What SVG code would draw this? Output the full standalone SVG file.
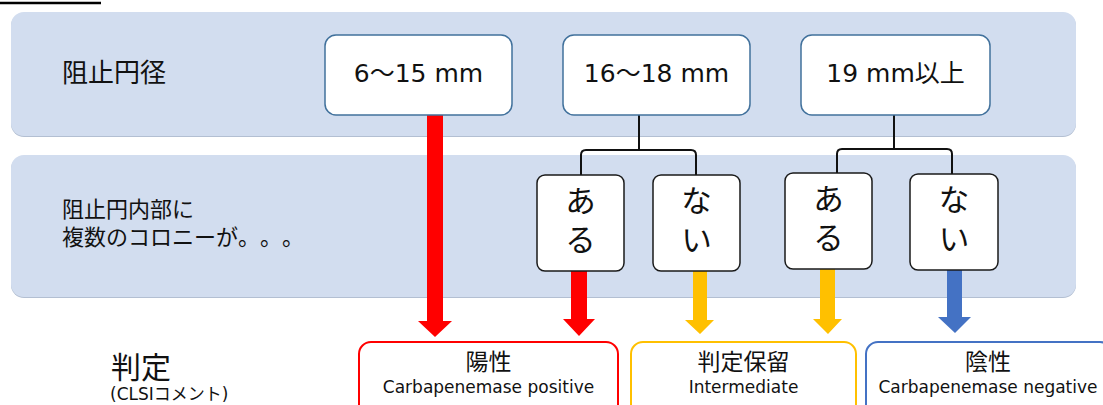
<svg xmlns="http://www.w3.org/2000/svg" width="1103" height="405" viewBox="0 0 1103 405">
<defs>
<style>
.band{fill:#d2ddef;}
.bandsh{fill:#b3bfd2;}
.top{fill:#ffffff;stroke:#41719c;stroke-width:1.5;}
.sub{fill:#ffffff;stroke:#1a1a1a;stroke-width:1.5;}
.t{font-family:"DejaVu Sans","Noto Sans CJK JP",sans-serif;fill:#111;}
.v{font-family:"Noto Sans CJK JP",sans-serif;fill:#111;writing-mode:vertical-rl;font-size:31px;letter-spacing:8px;}
.conn{fill:none;stroke:#111;stroke-width:2;stroke-linejoin:round;}
.red{fill:#ff0000;}
.yel{fill:#ffc000;}
.blu{fill:#4472c4;}
</style>
</defs>
<rect width="1103" height="405" fill="#ffffff"/>
<line x1="0" y1="3" x2="101" y2="3" stroke="#000" stroke-width="2.5"/>
<g id="band1">
<rect class="bandsh" x="11" y="13" width="1065" height="124" rx="13"/>
<rect class="band" x="11" y="12" width="1065" height="124" rx="13"/>
<text class="t" x="62" y="82" font-size="26">阻止円径</text>
</g>
<g id="band2">
<rect class="bandsh" x="11" y="156" width="1065" height="142" rx="13"/>
<rect class="band" x="11" y="155" width="1065" height="142" rx="13"/>
<text class="t" x="62" y="217" font-size="22">阻止円内部に</text>
<text class="t" x="62" y="245" font-size="22">複数のコロニーが<tspan x="238 260 282">。。。</tspan></text>
</g>
<g id="connectors">
<path class="conn" d="M639,115 V150 M581,175 V155 Q581,150 586,150 H691 Q696,150 696,155 V175"/>
<path class="conn" d="M894,115 V149 M837,173 V154 Q837,149 842,149 H947 Q952,149 952,154 V174"/>
<polygon class="red" points="427,115 443,115 443,321 452,321 435,337 418,321 427,321"/>
<polygon class="red" points="571,271 587,271 587,319 595,319 579,336 563,319 571,319"/>
<polygon class="yel" points="693,271 707,271 707,320 714,320 700,334 685,320 693,320"/>
<polygon class="yel" points="820,269 835,269 835,319 842,319 828,334 813,319 820,319"/>
<polygon class="blu" points="947,270 962,270 962,317 971,317 955,333 938,317 947,317"/>
</g>
<g id="n1">
<rect class="top" x="325" y="35" width="187" height="80" rx="11"/>
<text class="t" x="418.5" y="82" font-size="25" text-anchor="middle">6〜15 mm</text>
</g>
<g id="n2">
<rect class="top" x="563" y="35" width="187" height="80" rx="11"/>
<text class="t" x="656.5" y="82" font-size="25" text-anchor="middle">16〜18 mm</text>
</g>
<g id="n3">
<rect class="top" x="801" y="35" width="189" height="80" rx="11"/>
<text class="t" x="895.5" y="82" font-size="25" text-anchor="middle">19 mm以上</text>
</g>
<g id="a1">
<rect class="sub" x="537" y="175" width="87" height="96" rx="8"/>
<text class="v" x="580.5" y="185">ある</text>
</g>
<g id="b1">
<rect class="sub" x="653" y="175" width="87" height="96" rx="8"/>
<text class="v" x="696.5" y="185">ない</text>
</g>
<g id="a2">
<rect class="sub" x="785" y="173" width="87" height="96" rx="8"/>
<text class="v" x="828.5" y="183">ある</text>
</g>
<g id="b2">
<rect class="sub" x="910" y="174" width="88" height="96" rx="8"/>
<text class="v" x="954" y="184">ない</text>
</g>
<g id="judge">
<text class="t" x="111" y="378" font-size="30">判定</text>
<text class="t" x="110" y="400" font-size="17">(CLSIコメント)</text>
</g>
<g id="r1">
<rect x="359" y="342" width="259" height="80" rx="12" fill="#fff" stroke="#ff0000" stroke-width="2"/>
<text class="t" x="488.5" y="370" font-size="23" text-anchor="middle">陽性</text>
<text class="t" x="488.5" y="393" font-size="17" text-anchor="middle">Carbapenemase positive</text>
</g>
<g id="r2">
<rect x="631" y="342" width="225" height="80" rx="12" fill="#fff" stroke="#ffc000" stroke-width="2"/>
<text class="t" x="743.5" y="370" font-size="23" text-anchor="middle">判定保留</text>
<text class="t" x="743.5" y="393" font-size="17" text-anchor="middle">Intermediate</text>
</g>
<g id="r3">
<rect x="866" y="342" width="246" height="80" rx="12" fill="#fff" stroke="#4472c4" stroke-width="2"/>
<text class="t" x="988" y="370" font-size="23" text-anchor="middle">陰性</text>
<text class="t" x="988" y="393" font-size="17" text-anchor="middle">Carbapenemase negative</text>
</g>
</svg>
